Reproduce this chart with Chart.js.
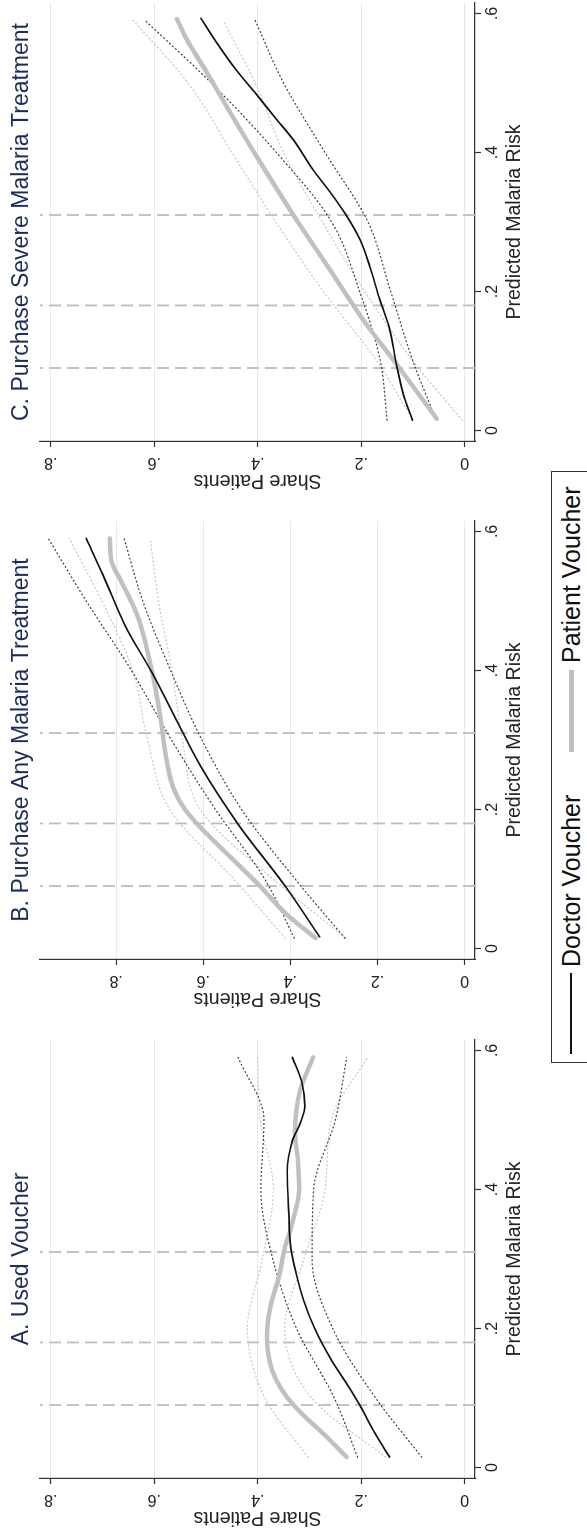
<!DOCTYPE html>
<html lang="en">
<head>
    <meta charset="UTF-8">
    <title>Voucher use and malaria treatment by predicted malaria risk</title>
    <script src="https://cdn.jsdelivr.net/npm/chart.js"></script>
    <style>
        html, body {
            margin: 0;
            padding: 0;
            background: #ffffff;
        }
        body {
            width: 587px;
            height: 1536px;
            overflow: hidden;
            position: relative;
        }
        /* the figure is laid out landscape and turned a quarter turn counter-clockwise */
        #figure {
            position: absolute;
            left: 0;
            top: 0;
            width: 1536px;
            height: 587px;
            background: #ffffff;
            transform-origin: 0 0;
            transform: translateY(1536px) rotate(-90deg);
            font-family: "Liberation Sans", Arial, sans-serif;
        }
        .panel {
            position: absolute;
            top: 0;
        }
        #legend {
            position: absolute;
            left: 473px;
            top: 551px;
            width: 592px;
            height: 41px;
            border: 1px solid #333333;
            box-sizing: border-box;
            color: #111111;
        }
        #legend .key {
            position: absolute;
        }
        #legend .txt {
            position: absolute;
            top: 7px;
            font-size: 25px;
            line-height: 25px;
            white-space: nowrap;
        }
    </style>
</head>
<body>
<div id="figure">
    <canvas class="panel" id="chartA" width="504" height="540" style="left:0px"></canvas>
    <canvas class="panel" id="chartB" width="504" height="540" style="left:519px"></canvas>
    <canvas class="panel" id="chartC" width="504" height="540" style="left:1037px"></canvas>

    <div id="legend">
        <div class="key" style="left:8px; top:18px; width:81px; height:2px; background:#111111"></div>
        <div class="txt" style="left:95px">Doctor Voucher</div>
        <div class="key" style="left:310px; top:17px; width:82px; height:5px; background:#c0c0c0"></div>
        <div class="txt" style="left:399px">Patient Voucher</div>
    </div>
</div>

<script>
    // axes
    var xTicks = [0, 0.2, 0.4, 0.6];
    var xTickLabels = ['0', '.2', '.4', '.6'];
    var yTicks = [0, 0.2, 0.4, 0.6, 0.8];
    var yTickLabels = ['0', '.2', '.4', '.6', '.8'];

    // dashed reference lines (predicted risk cut-offs)
    var riskCutoffs = [0.09, 0.18, 0.31];

    // risk points where the confidence bands were read
    var ciRisk = [0.015, 0.1, 0.2, 0.3, 0.4, 0.5, 0.59];

    // A. Used Voucher
    var riskA_doctor = [0.015, 0.05, 0.09, 0.115, 0.155, 0.2, 0.24, 0.28, 0.315, 0.365, 0.425, 0.47, 0.495, 0.52, 0.555, 0.59];
    var shareA_doctor = [0.145, 0.174, 0.203, 0.223, 0.258, 0.290, 0.311, 0.326, 0.336, 0.340, 0.343, 0.333, 0.318, 0.309, 0.315, 0.333];
    var riskA_patient = [0.015, 0.045, 0.08, 0.105, 0.14, 0.19, 0.23, 0.275, 0.315, 0.35, 0.4, 0.44, 0.48, 0.54, 0.59];
    var shareA_patient = [0.228, 0.268, 0.318, 0.347, 0.372, 0.382, 0.376, 0.359, 0.348, 0.334, 0.320, 0.322, 0.328, 0.319, 0.293];
    var lowA_doctor = [0.083, 0.172, 0.255, 0.295, 0.292, 0.250, 0.228];
    var highA_doctor = [0.207, 0.252, 0.325, 0.371, 0.394, 0.388, 0.438];
    var lowA_patient = [0.153, 0.296, 0.348, 0.311, 0.270, 0.258, 0.188];
    var highA_patient = [0.303, 0.386, 0.420, 0.391, 0.370, 0.395, 0.400];

    // B. Purchase Any Malaria Treatment
    var riskB_doctor = [0.017, 0.089, 0.178, 0.262, 0.334, 0.397, 0.464, 0.537, 0.59];
    var shareB_doctor = [0.333, 0.411, 0.519, 0.606, 0.666, 0.718, 0.779, 0.830, 0.869];
    var riskB_patient = [0.015, 0.05, 0.09, 0.13, 0.17, 0.2, 0.23, 0.27, 0.33, 0.39, 0.44, 0.48, 0.53, 0.555, 0.59];
    var shareB_patient = [0.342, 0.410, 0.470, 0.535, 0.600, 0.642, 0.668, 0.684, 0.698, 0.715, 0.733, 0.752, 0.790, 0.810, 0.815];
    var lowB_doctor = [0.275, 0.389, 0.512, 0.603, 0.675, 0.739, 0.782];
    var highB_doctor = [0.391, 0.459, 0.572, 0.673, 0.765, 0.869, 0.956];
    var lowB_patient = [0.272, 0.440, 0.607, 0.648, 0.672, 0.703, 0.722];
    var highB_patient = [0.412, 0.530, 0.677, 0.728, 0.762, 0.833, 0.908];

    // C. Purchase Severe Malaria Treatment
    var riskC_doctor = [0.015, 0.053, 0.092, 0.149, 0.188, 0.235, 0.274, 0.312, 0.343, 0.375, 0.418, 0.447, 0.483, 0.518, 0.562, 0.593];
    var shareC_doctor = [0.101, 0.119, 0.131, 0.146, 0.164, 0.183, 0.202, 0.231, 0.260, 0.293, 0.331, 0.363, 0.402, 0.441, 0.483, 0.510];
    var riskC_patient = [0.017, 0.089, 0.159, 0.231, 0.31, 0.394, 0.466, 0.523, 0.562, 0.592];
    var shareC_patient = [0.054, 0.125, 0.196, 0.260, 0.331, 0.402, 0.460, 0.505, 0.537, 0.556];
    var lowC_doctor = [0.055, 0.100, 0.143, 0.187, 0.270, 0.350, 0.405];
    var highC_doctor = [0.150, 0.163, 0.203, 0.257, 0.364, 0.490, 0.618];
    var lowC_patient = [0.005, 0.100, 0.193, 0.275, 0.350, 0.405, 0.467];
    var highC_patient = [0.100, 0.170, 0.273, 0.365, 0.450, 0.535, 0.641];

    Chart.defaults.font.family = '"Liberation Sans", Arial, sans-serif';
    Chart.defaults.color = '#222222';

    function pts(xs, ys) {
        return xs.map(function (x, i) { return { x: x, y: ys[i] }; });
    }

    function lineSet(xs, ys, color, width, dash) {
        return {
            data: pts(xs, ys),
            borderColor: color,
            borderWidth: width,
            borderDash: dash || [],
            borderCapStyle: 'round',
            pointRadius: 0,
            fill: false,
            cubicInterpolationMode: 'monotone'
        };
    }

    // vertical dashed lines at the risk cut-offs
    var cutoffLines = {
        id: 'cutoffLines',
        beforeDatasetsDraw: function (chart) {
            var ctx = chart.ctx;
            var area = chart.chartArea;
            var xs = chart.scales.x;
            ctx.save();
            ctx.strokeStyle = '#bdbdbd';
            ctx.lineWidth = 1.8;
            ctx.setLineDash([12, 6]);
            riskCutoffs.forEach(function (r) {
                var px = xs.getPixelForValue(r);
                ctx.beginPath();
                ctx.moveTo(px, area.bottom);
                ctx.lineTo(px, area.top);
                ctx.stroke();
            });
            ctx.restore();
        }
    };

    function makePanel(id, title, yMin, yMax, s) {
        return new Chart(document.getElementById(id), {
            type: 'line',
            data: {
                datasets: [
                    lineSet(s.docX, s.docY, '#111111', 1.7),
                    lineSet(s.patX, s.patY, '#c0c0c0', 4.5),
                    lineSet(ciRisk, s.docLow, '#3a3a3a', 1.2, [1, 3]),
                    lineSet(ciRisk, s.docHigh, '#3a3a3a', 1.2, [1, 3]),
                    lineSet(ciRisk, s.patLow, '#c4c4c4', 1.2, [1, 3]),
                    lineSet(ciRisk, s.patHigh, '#c4c4c4', 1.2, [1, 3])
                ]
            },
            options: {
                responsive: false,
                animation: false,
                layout: { padding: { right: 8 } },
                plugins: {
                    legend: { display: false },
                    tooltip: { enabled: false },
                    title: {
                        display: true,
                        text: title,
                        fullSize: false,
                        color: '#1b2b5a',
                        font: { size: 23, weight: 'normal' },
                        padding: { top: 8, bottom: 4.4 }
                    }
                },
                scales: {
                    x: {
                        type: 'linear',
                        min: -0.015,
                        max: 0.615,
                        afterBuildTicks: function (sc) {
                            sc.ticks = xTicks.map(function (v) { return { value: v }; });
                        },
                        afterFit: function (sc) { sc.height = 65; },
                        grid: { drawOnChartArea: false, tickLength: 6, tickColor: '#333333', tickWidth: 1.2 },
                        border: { color: '#333333', width: 1.2 },
                        ticks: {
                            callback: function (v, i) { return xTickLabels[i]; },
                            font: { size: 16 },
                            padding: 2,
                            maxRotation: 0
                        },
                        title: {
                            display: true,
                            text: 'Predicted Malaria Risk',
                            font: { size: 19.5 },
                            padding: { top: 0, bottom: 13.3 }
                        }
                    },
                    y: {
                        type: 'linear',
                        min: yMin,
                        max: yMax,
                        afterBuildTicks: function (sc) {
                            sc.ticks = yTicks.map(function (v) { return { value: v }; });
                        },
                        afterFit: function (sc) { sc.width = 58; },
                        grid: { color: '#e2ecf0', lineWidth: 1, tickLength: 6, tickColor: '#333333', tickWidth: 1.2 },
                        border: { color: '#333333', width: 1.2 },
                        ticks: {
                            callback: function (v, i) { return yTickLabels[i]; },
                            font: { size: 16 },
                            minRotation: 90,
                            maxRotation: 90,
                            crossAlign: 'center',
                            padding: 9
                        },
                        title: {
                            display: true,
                            text: 'Share Patients',
                            font: { size: 19.5 },
                            padding: { top: 6.6, bottom: 0 }
                        }
                    }
                }
            },
            plugins: [cutoffLines]
        });
    }

    makePanel('chartA', 'A. Used Voucher', -0.02, 0.821, {
        docX: riskA_doctor, docY: shareA_doctor, patX: riskA_patient, patY: shareA_patient,
        docLow: lowA_doctor, docHigh: highA_doctor, patLow: lowA_patient, patHigh: highA_patient
    });

    makePanel('chartB', 'B. Purchase Any Malaria Treatment', -0.024, 0.975, {
        docX: riskB_doctor, docY: shareB_doctor, patX: riskB_patient, patY: shareB_patient,
        docLow: lowB_doctor, docHigh: highB_doctor, patLow: lowB_patient, patHigh: highB_patient
    });

    makePanel('chartC', 'C. Purchase Severe Malaria Treatment', -0.02, 0.821, {
        docX: riskC_doctor, docY: shareC_doctor, patX: riskC_patient, patY: shareC_patient,
        docLow: lowC_doctor, docHigh: highC_doctor, patLow: lowC_patient, patHigh: highC_patient
    });
</script>
</body>
</html>
